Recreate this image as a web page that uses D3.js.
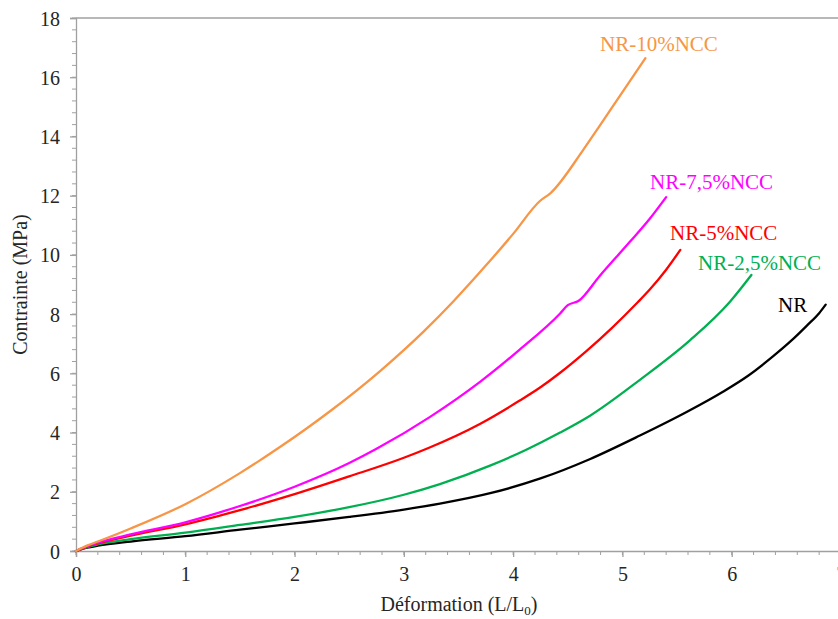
<!DOCTYPE html>
<html><head><meta charset="utf-8">
<script src="https://cdn.jsdelivr.net/npm/d3@7"></script>
<style>
html,body{margin:0;padding:0;background:#fff;}
svg{display:block;}
svg text{font-family:"Liberation Serif","Times New Roman",serif;}
</style></head>
<body>
<svg id="c" width="838" height="619"></svg>
<script>
// ---- data ----
const xTicks = [0,1,2,3,4,5,6,7];
const yTicks = [0,2,4,6,8,10,12,14,16,18];
const seriesNames = ["NR","NR-2,5%NCC","NR-5%NCC","NR-7,5%NCC","NR-10%NCC"];
const seriesColors = ["#000000","#00B050","#FF0000","#FF00FF","#F79646"];
const nrX   = [0,0.1,0.2,0.5,1,1.5,2,2.5,3,3.33,3.8,4.25,4.7,5.16,5.6,5.92,6.15,6.38,6.55,6.69,6.8,6.86];
const nrY   = [0,0.11,0.18,0.32,0.5,0.72,0.93,1.15,1.4,1.6,1.96,2.45,3.1,3.9,4.72,5.38,5.92,6.58,7.12,7.62,8.03,8.32];
const nr25X = [0,0.1,0.2,0.5,1,1.5,2,2.5,3,3.33,3.8,4.12,4.43,4.7,5.16,5.62,5.98,6.18];
const nr25Y = [0,0.13,0.22,0.4,0.62,0.88,1.15,1.48,1.9,2.26,2.9,3.42,4.0,4.56,5.78,7.12,8.4,9.32];
const nr5X  = [0,0.1,0.2,0.5,1,1.5,2,2.5,3,3.225,3.7,4.06,4.25,4.43,4.67,4.9,5.14,5.25,5.4,5.53];
const nr5Y  = [0,0.15,0.26,0.52,0.9,1.38,1.92,2.52,3.15,3.48,4.3,5.08,5.53,6.02,6.75,7.52,8.4,8.83,9.5,10.17];
const nr75X = [0,0.1,0.2,0.5,1,1.5,2,2.5,2.75,3.24,3.7,4.06,4.43,4.5,4.6,4.79,5.07,5.25,5.4];
const nr75Y = [0,0.16,0.28,0.56,0.97,1.52,2.17,2.97,3.45,4.53,5.72,6.8,8.02,8.3,8.45,9.28,10.45,11.22,11.95];
const nr10X = [0,0.1,0.2,0.5,1,1.5,1.866,2.324,2.78,3.18,3.45,3.76,4.0,4.245,4.34,4.64,4.79,5.0,5.21];
const nr10Y = [0,0.18,0.32,0.76,1.58,2.63,3.51,4.72,6.07,7.41,8.42,9.68,10.71,11.82,12.08,13.54,14.35,15.5,16.64];
const labelPos = [[778,312],[698,270],[670,240],[650,189],[600,51]]; // label anchors (px)

const seriesX = [nrX,nr25X,nr5X,nr75X,nr10X];
const seriesY = [nrY,nr25Y,nr5Y,nr75Y,nr10Y];

// ---- layout ----
const FONT = "'Liberation Serif','Times New Roman',serif";
const svg = d3.select("#c");
const x = d3.scaleLinear().domain([0,7]).range([76,841]);
const y = d3.scaleLinear().domain([0,18]).range([551,18]);
const axisColor = "#A0A0A0";
const textColor = "#262626";

// top border line
svg.append("line").attr("x1",x(0)).attr("x2",838).attr("y1",y(18)).attr("y2",y(18))
  .attr("stroke",axisColor).attr("stroke-width",1.3);

// minor ticks
const xMinor = d3.range(0,7.001,0.2);
const yMinor = d3.range(0,18.001,0.4);
svg.append("g").selectAll("line").data(xMinor).join("line")
  .attr("x1",d=>x(d)).attr("x2",d=>x(d)).attr("y1",y(0)).attr("y2",y(0)+4)
  .attr("stroke",axisColor).attr("stroke-width",1);
svg.append("g").selectAll("line").data(yMinor).join("line")
  .attr("x1",x(0)-4).attr("x2",x(0)).attr("y1",d=>y(d)).attr("y2",d=>y(d))
  .attr("stroke",axisColor).attr("stroke-width",1);

// axes
const xAxis = svg.append("g").attr("transform",`translate(0,${y(0)})`)
  .call(d3.axisBottom(x).tickValues(xTicks).tickFormat(d3.format("d")).tickSizeOuter(0).tickSize(6).tickPadding(10));
const yAxis = svg.append("g").attr("transform",`translate(${x(0)},0)`)
  .call(d3.axisLeft(y).tickValues(yTicks).tickFormat(d3.format("d")).tickSizeOuter(0).tickSize(6).tickPadding(10));
[xAxis,yAxis].forEach(g=>{
  g.attr("font-family",FONT).attr("font-size",20);
  g.select(".domain").attr("stroke",axisColor).attr("stroke-width",1.3);
  g.selectAll(".tick line").attr("stroke",axisColor).attr("stroke-width",1.3);
  g.selectAll(".tick text").attr("fill",textColor).attr("font-family",FONT).style("font-size","20px");
});
xAxis.selectAll(".tick text").attr("dy","0.71em");
yAxis.selectAll(".tick text").attr("dy","0.35em");

// curves
const line = d3.line().x(d=>x(d[0])).y(d=>y(d[1])).curve(d3.curveMonotoneX);
seriesNames.forEach((name,i)=>{
  const pts = seriesX[i].map((v,j)=>[v,seriesY[i][j]]);
  svg.append("path").datum(pts).attr("d",line)
    .attr("fill","none").attr("stroke",seriesColors[i]).attr("stroke-width",2.3)
    .attr("stroke-linejoin","round").attr("stroke-linecap","round");
  svg.append("text").attr("x",labelPos[i][0]).attr("y",labelPos[i][1])
    .attr("font-family",FONT).attr("fill",seriesColors[i]).style("font-size","21px").text(name);
});

// axis titles
const xt = svg.append("text").attr("x",459).attr("y",611).attr("text-anchor","middle")
  .attr("font-family",FONT).attr("fill",textColor).style("font-size","20px");
xt.append("tspan").text("Déformation (L/L");
xt.append("tspan").attr("dy",4).style("font-size","13px").text("0");
xt.append("tspan").attr("dy",-4).text(")");
svg.append("text").attr("transform","translate(27,284.5) rotate(-90)").attr("text-anchor","middle")
  .attr("font-family",FONT).attr("fill",textColor).style("font-size","20px").text("Contrainte (MPa)");
</script>
</body></html>
